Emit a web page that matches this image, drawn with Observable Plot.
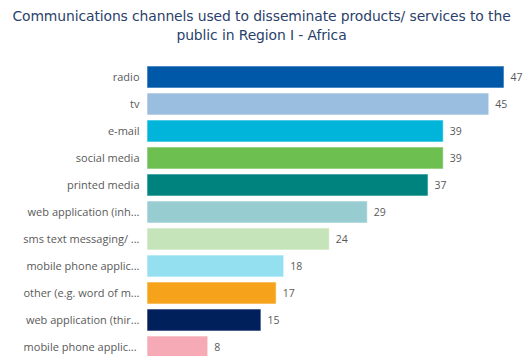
<!DOCTYPE html>
<html>
<head>
<meta charset="utf-8">
<script src="https://cdn.jsdelivr.net/npm/d3@7"></script>
<script src="https://cdn.jsdelivr.net/npm/@observablehq/plot@0.6"></script>
<style>
  html, body { margin: 0; padding: 0; background: #fff; overflow: hidden; }
  #title { font-family: "DejaVu Sans", Verdana, sans-serif; font-size: 13.9px; color: #2a3f6b; text-align: center; line-height: 19px; padding-top: 7px; height: 41px; letter-spacing: -0.1px; }
  #chart svg { display: block; }
</style>
</head>
<body>
<div id="title">Communications channels used to disseminate products/ services to the<br>public in Region I - Africa</div>
<div id="chart"></div>
<script>
const categories = [
  "radio", "tv", "e-mail", "social media", "printed media",
  "web application (inh...", "sms text messaging/ ...", "mobile phone applic...",
  "other (e.g. word of m...", "web application (thir...", "mobile phone applic... "
];
const values = [47, 45, 39, 39, 37, 29, 24, 18, 17, 15, 8];
const colors = ["#0058a9", "#9abee0", "#00b5d9", "#6dbf50", "#00837f", "#97ccd0", "#c6e4b9", "#94e0f1", "#f6a31b", "#00205c", "#f5aab5"];

const data = categories.map((c, i) => ({category: c, value: values[i], color: colors[i]}));

const chart = Plot.plot({
  width: 523,
  height: 316,
  marginTop: 11,
  marginBottom: 0,
  marginLeft: 147,
  marginRight: 19,
  style: {fontFamily: "'Open Sans', sans-serif", fontSize: "11px", color: "#595959"},
  x: {domain: [0, 47], axis: null},
  y: {domain: categories, padding: 0.19, label: null},
  axis: null,
  marks: [
    Plot.axisY({tickSize: 0, tickPadding: 8, label: null, fill: "#595959", fontSize: 11}),
    Plot.barX(data, {x: "value", y: "category", fill: "color", stroke: "#ffffff", strokeOpacity: 0.6, strokeWidth: 1}),
    Plot.text(data, {x: "value", y: "category", text: d => String(d.value), textAnchor: "start", dx: 6, fill: "#595959", fontSize: 10.5})
  ]
});
document.getElementById("chart").appendChild(chart);
</script>
</body>
</html>
